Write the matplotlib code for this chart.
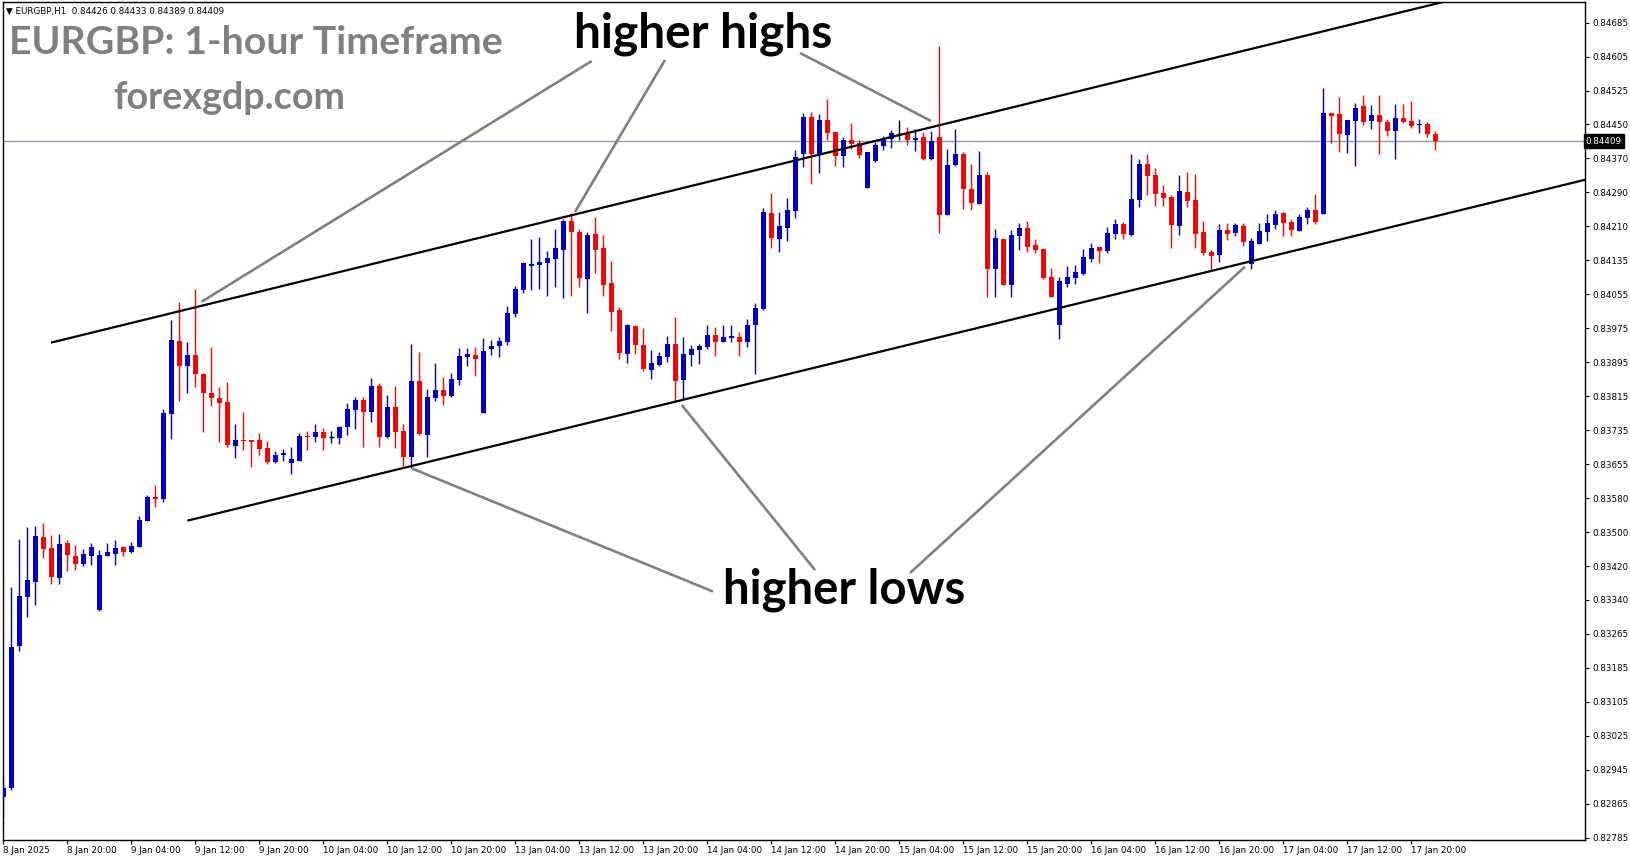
import numpy as np
import matplotlib
matplotlib.use("Agg")
import matplotlib.pyplot as plt

# ---------------- data ----------------
opens = [0.82881,0.82900,0.83233,0.83347,0.83382,0.83486,0.83460,0.83391,0.83472,0.83442,
0.83424,0.83442,0.83316,0.83442,0.83446,0.83463,0.83451,0.83463,0.83524,0.83579,
0.83574,0.83773,0.83943,0.83885,0.83910,0.83867,0.83822,0.83811,0.83801,0.83699,
0.83712,0.83711,0.83712,0.83693,0.83661,0.83676,0.83659,0.83663,0.83721,0.83720,
0.83730,0.83720,0.83717,0.83743,0.83782,0.83805,0.83778,0.83838,0.83720,0.83789,
0.83732,0.83673,0.83850,0.83724,0.83811,0.83829,0.83815,0.83852,0.83906,0.83910,
0.83776,0.83925,0.83932,0.83941,0.84005,0.84062,0.84118,0.84121,0.84125,0.84135,
0.84156,0.84223,0.84197,0.84088,0.84192,0.84160,0.84078,0.84015,0.83913,0.83978,
0.83933,0.83876,0.83887,0.83906,0.83936,0.83853,0.83911,0.83923,0.83930,0.83957,
0.83941,0.83950,0.83952,0.83941,0.83979,0.84018,0.84241,0.84181,0.84207,0.84247,
0.84379,0.84465,0.84378,0.84459,0.84430,0.84375,0.84411,0.84404,0.84300,0.84362,
0.84397,0.84414,0.84425,0.84425,0.84412,0.84418,0.84367,0.84418,0.84237,0.84354,
0.84379,0.84297,0.84263,0.84330,0.84111,0.84181,0.84074,0.84188,0.84206,0.84167,
0.84158,0.84092,0.83979,0.84076,0.84090,0.84100,0.84135,0.84162,0.84153,0.84193,
0.84216,0.84190,0.84272,0.84355,0.84330,0.84288,0.84279,0.84212,0.84290,0.84272,
0.84197,0.84150,0.84143,0.84202,0.84195,0.84211,0.84123,0.84170,0.84198,0.84214,
0.84241,0.84220,0.84200,0.84230,0.84248,0.84240,0.84474,0.84472,0.84424,0.84456,
0.84491,0.84456,0.84470,0.84453,0.84433,0.84462,0.84456,0.84446,0.84449,0.84426]

highs = [0.82916,0.83370,0.83481,0.83509,0.83512,0.83519,0.83491,0.83493,0.83479,0.83467,
0.83457,0.83472,0.83456,0.83472,0.83479,0.83466,0.83474,0.83535,0.83584,0.83607,
0.83784,0.83992,0.84034,0.83941,0.84064,0.83869,0.83929,0.83836,0.83847,0.83749,
0.83777,0.83712,0.83728,0.83710,0.83686,0.83691,0.83696,0.83728,0.83732,0.83749,
0.83740,0.83732,0.83745,0.83798,0.83812,0.83812,0.83856,0.83846,0.83816,0.83839,
0.83749,0.83936,0.83917,0.83832,0.83892,0.83859,0.83869,0.83927,0.83927,0.83930,
0.83950,0.83945,0.83953,0.84025,0.84071,0.84127,0.84181,0.84185,0.84153,0.84204,
0.84227,0.84241,0.84205,0.84197,0.84232,0.84190,0.84130,0.84023,0.83982,0.83979,
0.83973,0.83922,0.83917,0.83955,0.83999,0.83952,0.83933,0.83936,0.83980,0.83976,
0.83980,0.83979,0.83964,0.83994,0.84031,0.84253,0.84288,0.84244,0.84276,0.84388,
0.84475,0.84477,0.84472,0.84507,0.84430,0.84419,0.84451,0.84411,0.84384,0.84407,
0.84421,0.84434,0.84458,0.84442,0.84438,0.84430,0.84432,0.84630,0.84391,0.84437,
0.84383,0.84355,0.84386,0.84337,0.84204,0.84183,0.84202,0.84218,0.84223,0.84181,
0.84158,0.84113,0.84092,0.84118,0.84121,0.84157,0.84172,0.84162,0.84209,0.84227,
0.84220,0.84379,0.84367,0.84379,0.84346,0.84306,0.84282,0.84330,0.84337,0.84332,
0.84223,0.84155,0.84216,0.84218,0.84218,0.84218,0.84183,0.84218,0.84239,0.84248,
0.84244,0.84227,0.84239,0.84255,0.84285,0.84533,0.84474,0.84512,0.84458,0.84498,
0.84516,0.84493,0.84516,0.84460,0.84496,0.84496,0.84502,0.84460,0.84454,0.84433]

lows = [0.82834,0.82896,0.83221,0.83300,0.83327,0.83438,0.83377,0.83377,0.83407,0.83410,
0.83419,0.83421,0.83313,0.83441,0.83421,0.83442,0.83449,0.83462,0.83523,0.83557,
0.83568,0.83714,0.83804,0.83822,0.83836,0.83731,0.83791,0.83708,0.83696,0.83671,
0.83689,0.83648,0.83678,0.83657,0.83659,0.83664,0.83632,0.83662,0.83689,0.83708,
0.83689,0.83706,0.83703,0.83724,0.83738,0.83696,0.83754,0.83696,0.83717,0.83694,
0.83652,0.83646,0.83724,0.83673,0.83804,0.83794,0.83813,0.83841,0.83885,0.83861,
0.83774,0.83910,0.83906,0.83934,0.83999,0.84055,0.84062,0.84063,0.84048,0.84069,
0.84044,0.84048,0.84069,0.84009,0.84102,0.84048,0.83967,0.83902,0.83892,0.83913,
0.83874,0.83854,0.83885,0.83895,0.83801,0.83807,0.83885,0.83890,0.83925,0.83909,
0.83941,0.83941,0.83909,0.83930,0.83867,0.84015,0.84160,0.84151,0.84177,0.84230,
0.84349,0.84309,0.84335,0.84412,0.84351,0.84349,0.84390,0.84369,0.84300,0.84360,
0.84387,0.84393,0.84411,0.84400,0.84386,0.84365,0.84365,0.84195,0.84236,0.84351,
0.84251,0.84249,0.84261,0.84046,0.84046,0.84073,0.84046,0.84156,0.84151,0.84149,
0.84088,0.84045,0.83947,0.84069,0.84076,0.84097,0.84127,0.84125,0.84149,0.84181,
0.84181,0.84188,0.84256,0.84283,0.84258,0.84258,0.84160,0.84190,0.84254,0.84160,
0.84144,0.84109,0.84128,0.84179,0.84188,0.84165,0.84111,0.84170,0.84177,0.84205,
0.84188,0.84188,0.84200,0.84216,0.84216,0.84240,0.84405,0.84384,0.84382,0.84351,
0.84447,0.84437,0.84379,0.84421,0.84368,0.84450,0.84439,0.84428,0.84419,0.84389]

closes = [0.82900,0.83230,0.83348,0.83386,0.83488,0.83459,0.83393,0.83470,0.83445,0.83424,
0.83446,0.83463,0.83444,0.83451,0.83460,0.83451,0.83465,0.83526,0.83579,0.83575,
0.83774,0.83945,0.83885,0.83910,0.83867,0.83822,0.83811,0.83799,0.83700,0.83712,
0.83710,0.83708,0.83692,0.83661,0.83677,0.83682,0.83668,0.83721,0.83719,0.83730,
0.83717,0.83720,0.83742,0.83784,0.83805,0.83778,0.83839,0.83720,0.83789,0.83731,
0.83673,0.83850,0.83726,0.83812,0.83829,0.83815,0.83854,0.83908,0.83913,0.83902,
0.83920,0.83931,0.83943,0.84008,0.84064,0.84125,0.84122,0.84127,0.84136,0.84160,
0.84223,0.84196,0.84090,0.84190,0.84156,0.84074,0.84011,0.83916,0.83979,0.83933,
0.83878,0.83892,0.83908,0.83936,0.83850,0.83913,0.83924,0.83931,0.83957,0.83941,
0.83952,0.83954,0.83941,0.83980,0.84020,0.84244,0.84184,0.84211,0.84248,0.84372,
0.84465,0.84379,0.84459,0.84428,0.84375,0.84411,0.84403,0.84376,0.84384,0.84400,
0.84411,0.84428,0.84425,0.84411,0.84416,0.84367,0.84409,0.84237,0.84353,0.84379,
0.84298,0.84265,0.84330,0.84111,0.84183,0.84074,0.84190,0.84206,0.84163,0.84156,
0.84090,0.84046,0.84083,0.84092,0.84104,0.84139,0.84160,0.84153,0.84195,0.84216,
0.84193,0.84274,0.84355,0.84327,0.84286,0.84277,0.84214,0.84292,0.84270,0.84193,
0.84149,0.84142,0.84202,0.84193,0.84213,0.84174,0.84176,0.84199,0.84218,0.84239,
0.84219,0.84202,0.84232,0.84248,0.84220,0.84474,0.84468,0.84426,0.84458,0.84486,
0.84454,0.84470,0.84454,0.84432,0.84462,0.84453,0.84445,0.84449,0.84426,0.84409]

x_tick_labels = ["8 Jan 2025", "8 Jan 20:00", "9 Jan 04:00", "9 Jan 12:00", "9 Jan 20:00",
                 "10 Jan 04:00", "10 Jan 12:00", "10 Jan 20:00", "13 Jan 04:00", "13 Jan 12:00",
                 "13 Jan 20:00", "14 Jan 04:00", "14 Jan 12:00", "14 Jan 20:00", "15 Jan 04:00",
                 "15 Jan 12:00", "15 Jan 20:00", "16 Jan 04:00", "16 Jan 12:00", "16 Jan 20:00",
                 "17 Jan 04:00", "17 Jan 12:00", "17 Jan 20:00"]
bars_per_label = 8

y_tick_labels = ["0.82785", "0.82865", "0.82945", "0.83025", "0.83105", "0.83185", "0.83265",
                 "0.83340", "0.83420", "0.83500", "0.83580", "0.83655", "0.83735", "0.83815",
                 "0.83895", "0.83975", "0.84055", "0.84135", "0.84210", "0.84290", "0.84370",
                 "0.84450", "0.84525", "0.84605", "0.84685"]
y_tick_low, y_tick_high = 0.82785, 0.84685

last_price = 0.84409
header = "EURGBP,H1  0.84426 0.84433 0.84389 0.84409"

# channel trend lines: (bar index, price) anchors
upper_channel = [(5.96, 0.83939), (185.0, 0.84756)]
lower_channel = [(23.0, 0.83524), (200.0, 0.84329)]

# annotation pointer lines (bar index, price)
high_pointers = [[(73.55, 0.845955), (24.8, 0.840344)],
                 [(82.71, 0.845978), (71.46, 0.842435)],
                 [(99.59, 0.846142), (115.96, 0.844557)]]
low_pointers = [[(88.71, 0.833589), (51.09, 0.836456)],
                [(101.46, 0.834090), (84.8, 0.837937)],
                [(113.34, 0.834021), (155.21, 0.841161)]]

# ---------------- figure ----------------
W, H = 1631, 861
fig = plt.figure(figsize=(W / 100, H / 100), dpi=100)
fig.patch.set_facecolor("white")
ax = fig.add_axes([3 / W, 1 - 840 / H, (1585 - 3) / W, (840 - 2) / H])
ax.set_facecolor("white")

n = len(opens)
x = np.arange(n)
o = np.array(opens); h = np.array(highs); l = np.array(lows); c = np.array(closes)

BLUE = "#0000CD"
RED = "#FF0000"
cols = np.where(c > o, BLUE, np.where(c < o, RED, "#000000"))

ax.vlines(x, l, h, colors=cols, linewidth=1.0, zorder=2)
body_bot = np.minimum(o, c)
body_h = np.abs(c - o)
mask = body_h > 0
ax.bar(x[mask], body_h[mask], bottom=body_bot[mask], width=0.62, color=cols[mask],
       linewidth=0, zorder=3)
ax.hlines(o[~mask], x[~mask] - 0.31, x[~mask] + 0.31, colors=cols[~mask], linewidth=1.0, zorder=3)

# current price line
ax.axhline(last_price, color="#8497A8", linewidth=0.9, zorder=1)

# channel lines
for line in (upper_channel, lower_channel):
    xs, ys = zip(*line)
    ax.plot(xs, ys, color="black", linewidth=1.6, zorder=4, solid_capstyle="butt")

# pointer lines
for seg in high_pointers + low_pointers:
    xs, ys = zip(*seg)
    ax.plot(xs, ys, color="#808080", linewidth=1.9, zorder=5, solid_capstyle="butt")

ax.set_xlim(-0.0375, 197.71)
ax.set_ylim(0.827797, 0.847330)

# axes ticks
ax.set_xticks(np.arange(len(x_tick_labels)) * bars_per_label)
ax.set_xticklabels(x_tick_labels, fontsize=6.3, ha="left", family="DejaVu Sans")
ax.tick_params(axis="x", direction="out", length=3, width=0.8, pad=1.5, colors="black")
ax.yaxis.tick_right()
ax.set_yticks(np.linspace(y_tick_low, y_tick_high, len(y_tick_labels)))
ax.set_yticklabels(y_tick_labels, fontsize=6.3, family="DejaVu Sans")
ax.tick_params(axis="y", direction="out", length=3, width=0.8, pad=2, colors="black")
for s in ax.spines.values():
    s.set_color("black")
    s.set_linewidth(1.0)

# price tag on the axis
ax.text(1.0005, last_price, f"{last_price:.5f}", transform=ax.get_yaxis_transform(),
        ha="left", va="center", fontsize=6.3, color="white", family="DejaVu Sans",
        bbox=dict(boxstyle="square,pad=0.25", facecolor="black", edgecolor="black"), zorder=10,
        clip_on=False)

# header
fig.text(6 / W, 1 - 11 / H, "\u25BC " + header, fontsize=6.3, color="black",
         ha="left", va="center", family="DejaVu Sans")

# titles / annotations
FONT = ["Lato", "DejaVu Sans"]
fig.text(256 / W, 1 - 54 / H, "EURGBP: 1-hour Timeframe", fontsize=28.3, color="#808080",
         ha="center", va="baseline", family=FONT, fontweight="bold")
fig.text(229 / W, 1 - 109 / H, "forexgdp.com", fontsize=27.2, color="#808080",
         ha="center", va="baseline", family=FONT, fontweight="bold")
fig.text(703.5 / W, 1 - 48 / H, "higher highs", fontsize=34.5, color="black",
         ha="center", va="baseline", family=FONT, fontweight="bold")
fig.text(844 / W, 1 - 604 / H, "higher lows", fontsize=34, color="black",
         ha="center", va="baseline", family=FONT, fontweight="bold")

fig.savefig("out.png", dpi=100, facecolor="white")
